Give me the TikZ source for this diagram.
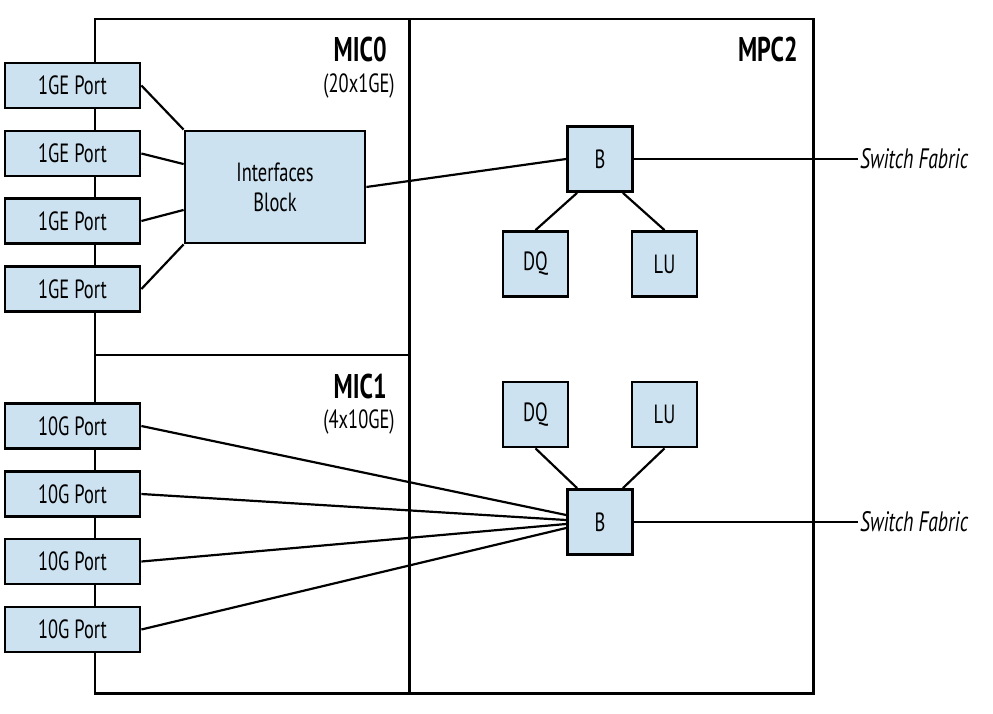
\documentclass[tikz,border=0pt]{standalone}
\usepackage{fontspec}
\setmainfont{PT Sans}[FakeStretch=0.7]
\definecolor{chipblue}{RGB}{205,226,240}
\usetikzlibrary{positioning,calc}

\begin{document}
\begin{tikzpicture}[x=0.02cm,y=-0.02cm,
  box/.style={line width=1.7pt},
  port/.style={draw,line width=1.6pt,fill=chipblue,minimum width=2.7cm,minimum height=0.9cm,inner sep=0pt,font=\fontsize{15}{17}\selectfont},
  chip/.style={draw,line width=1.6pt,fill=chipblue,minimum size=1.3cm,inner sep=0pt,font=\fontsize{15}{17}\selectfont},
  link/.style={line width=1.25pt},
  title/.style={anchor=base east,inner sep=0pt,font=\fontsize{19.5}{21}\selectfont\bfseries},
  sub/.style={anchor=base east,inner sep=0pt,font=\fontsize{15}{17}\selectfont}]
  \useasboundingbox (0,0) rectangle (993,713);
  % MIC and MPC frames
  \draw[box] (95,19) rectangle (409,693);
  \draw[box] (95,355) -- (409,355);
  \draw[box] (409,19) rectangle (813,693);
  \node[title] (mic0) at (387,62) {MIC0};
  \node[sub] (mic0n) at (395,92) {(20x1GE)};
  \node[title] (mic1) at (387,398) {MIC1};
  \node[sub] (mic1n) at (395,428) {(4x10GE)};
  \node[title] (mpc) at (798,62) {MPC2};
  % ports
  \foreach \i/\y in {1/85.5,2/153.5,3/221,4/289}
    \node[port] (ge\i) at (72.5,\y) {1GE Port};
  \foreach \i/\y in {1/426,2/494,3/561.5,4/629.5}
    \node[port] (xg\i) at (72.5,\y) {10G Port};
  % interfaces block
  \node[port,minimum width=3.6cm,minimum height=2.24cm,align=center] (iface) at (275,187) {Interfaces\\Block};
  % upper PFE
  \node[chip] (bu) at (600,159) {B};
  \node[chip] (dqu) at (535.5,264) {DQ};
  \node[chip] (luu) at (664.5,264) {LU};
  % lower PFE
  \node[chip] (dql) at (535.5,414.5) {DQ};
  \node[chip] (lul) at (664.5,414.5) {LU};
  \node[chip] (bl) at (600,522) {B};
  % fabric labels
  \node[anchor=west,inner sep=1pt,font=\fontsize{16}{18}\selectfont\itshape] (sfu) at (858,159) {Switch Fabric};
  \node[anchor=west,inner sep=1pt,font=\fontsize{16}{18}\selectfont\itshape] (sfl) at (858,522) {Switch Fabric};
  % links
  \draw[link] (ge1.east) -- (iface.north west);
  \draw[link] (ge2.east) -- ($(iface.north west)!0.3!(iface.south west)$);
  \draw[link] (ge3.east) -- ($(iface.north west)!0.7!(iface.south west)$);
  \draw[link] (ge4.east) -- (iface.south west);
  \draw[link] (iface.east) -- (bu.west);
  \foreach \i/\s in {1/0.14,2/0.04,3/-0.04,4/-0.12}
    \draw[link] (xg\i.east) -- ([yshift=\s cm]bl.west);
  \draw[link] ([xshift=0.22cm]bu.south west) -- (dqu.north);
  \draw[link] ([xshift=-0.22cm]bu.south east) -- (luu.north);
  \draw[link] ([xshift=0.22cm]bl.north west) -- (dql.south);
  \draw[link] ([xshift=-0.22cm]bl.north east) -- (lul.south);
  \draw[line width=0.9pt] (bu.east) -- (sfu.west);
  \draw[line width=0.9pt] (bl.east) -- (sfl.west);
\end{tikzpicture}
\end{document}
